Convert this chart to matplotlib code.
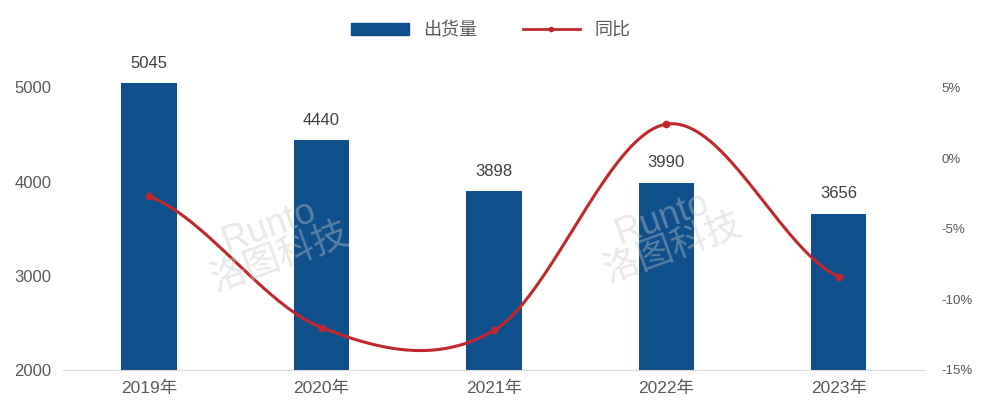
import numpy as np
import matplotlib
matplotlib.use("Agg")
import matplotlib.pyplot as plt
from matplotlib.lines import Line2D
from matplotlib.patches import Patch

plt.rcParams['font.family'] = ['Liberation Sans', 'Noto Sans CJK SC', 'DejaVu Sans']
plt.rcParams['axes.unicode_minus'] = False

years = ['2019年', '2020年', '2021年', '2022年', '2023年']
shipments = [5045, 4440, 3898, 3990, 3656]
yoy = [-2.7, -12.0, -12.2, 2.4, -8.4]   # percent

bar_color = '#0e4f8c'
line_color = '#c1272d'
text_color = '#595959'


def catmull_rom(y, n=40):
    # smooth line like the spreadsheet "smoothed line" option
    y = np.asarray(y, dtype=float)
    pts = np.concatenate([[y[0]], y, [y[-1]]])
    xs, ys = [], []
    for i in range(len(y) - 1):
        p0, p1, p2, p3 = pts[i], pts[i + 1], pts[i + 2], pts[i + 3]
        m1 = (p2 - p0) / 2
        m2 = (p3 - p1) / 2
        t = np.linspace(0, 1, n, endpoint=False)
        h00 = 2 * t**3 - 3 * t**2 + 1
        h10 = t**3 - 2 * t**2 + t
        h01 = -2 * t**3 + 3 * t**2
        h11 = t**3 - t**2
        xs.append(i + t)
        ys.append(h00 * p1 + h10 * m1 + h01 * p2 + h11 * m2)
    xs.append([len(y) - 1])
    ys.append([y[-1]])
    return np.concatenate(xs), np.concatenate(ys)


fig = plt.figure(figsize=(9.82, 4.03), dpi=100)
ax = fig.add_axes([0.064, 0.082, 0.878, 0.818])
x = np.arange(len(years))

ax.bar(x, shipments, width=0.32, color=bar_color, label='出货量', zorder=2)
for xi, v in zip(x, shipments):
    ax.annotate(str(v), (xi, v), xytext=(0, 9), textcoords='offset points',
                ha='center', va='bottom', fontsize=12, color='#404040')

ax.set_xlim(-0.5, len(years) - 0.5)
ax.set_ylim(2000, 5500)
ax.set_yticks([2000, 3000, 4000, 5000])
ax.set_xticks(x)
ax.set_xticklabels(years, fontsize=12.5, color=text_color)
ax.tick_params(axis='y', labelsize=12, colors=text_color, length=0, pad=8)
ax.tick_params(axis='x', length=0, pad=8)
for s in ['top', 'left', 'right']:
    ax.spines[s].set_visible(False)
ax.spines['bottom'].set_color('#d9d9d9')

ax2 = ax.twinx()
sx, sy = catmull_rom(yoy)
ax2.plot(sx, sy, color=line_color, lw=2.2, zorder=3)
ax2.plot(x, yoy, 'o', color=line_color, ms=4.5, zorder=4)
ax2.set_ylim(-15, 5 + 500 / 1000 * 20 / 3)
ax2.set_yticks([-15, -10, -5, 0, 5])
ax2.set_yticklabels([f'{v}%' for v in [-15, -10, -5, 0, 5]])
ax2.tick_params(axis='y', labelsize=9.5, colors=text_color, length=0, pad=12)
for s in ['top', 'left', 'right', 'bottom']:
    ax2.spines[s].set_visible(False)

# legend
handles = [Patch(color=bar_color, label='出货量'),
           Line2D([0], [0], color=line_color, lw=2, marker='o', ms=3, label='同比')]
fig.legend(handles=handles, loc='upper center', bbox_to_anchor=(0.5, 0.985), ncol=2,
           frameon=False, fontsize=13, labelcolor=text_color, handlelength=3.2,
           handleheight=0.6, columnspacing=2.5)

# watermark
for wx, wy in [(0.28, 0.40), (0.68, 0.42)]:
    fig.text(wx, wy, 'Runto\n洛图科技', fontsize=26, color='#c8c8c8', alpha=0.4,
             rotation=20, ha='center', va='center', linespacing=0.9, zorder=10)

fig.savefig('out.png', dpi=100)
